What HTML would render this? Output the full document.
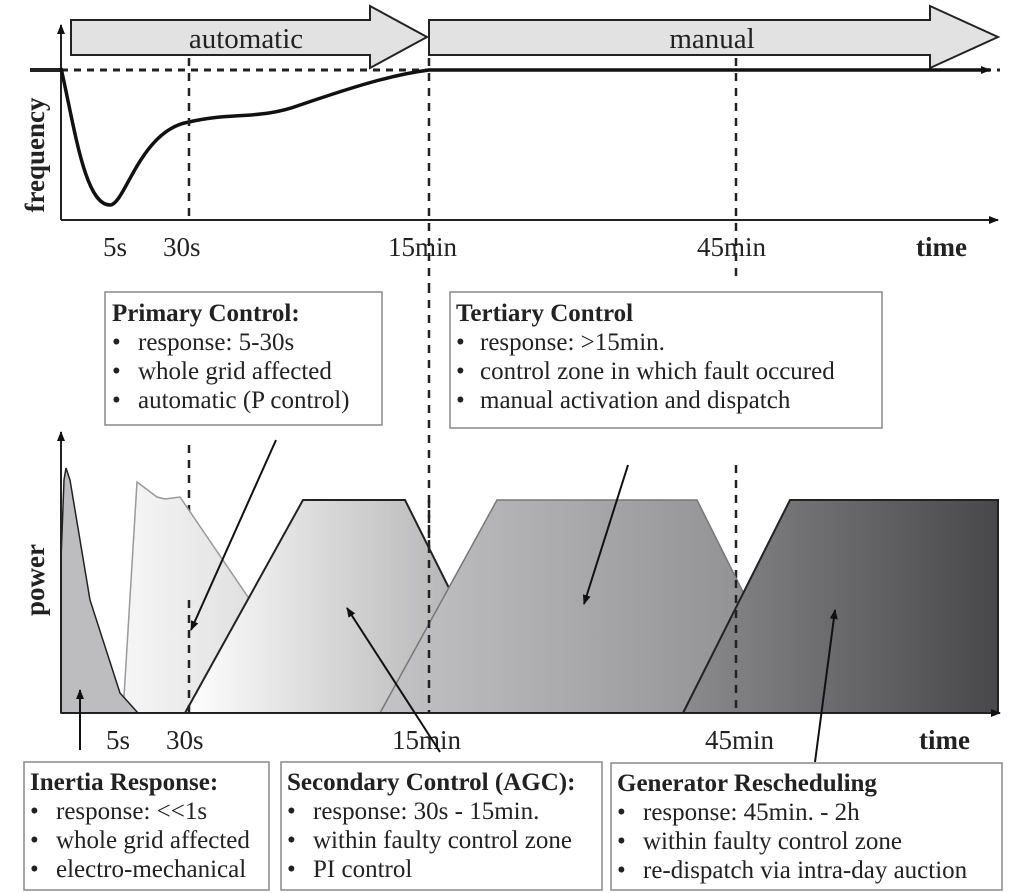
<!DOCTYPE html>
<html><head><style>body{margin:0;background:#fff}svg{display:block}text{font-family:"Liberation Serif",serif;fill:#222}</style></head><body>
<svg width="1024" height="893" viewBox="0 0 1024 893" xmlns="http://www.w3.org/2000/svg">
<defs>
<linearGradient id="g1" x1="0" x2="1"><stop offset="0" stop-color="#f6f6f6"/><stop offset="1" stop-color="#d8d8d8"/></linearGradient>
<linearGradient id="g2" x1="0" x2="1"><stop offset="0" stop-color="#fff"/><stop offset="1" stop-color="#a9a9ab"/></linearGradient>
<linearGradient id="g3" x1="0" x2="1"><stop offset="0" stop-color="#c4c4c6"/><stop offset="1" stop-color="#8a8a8d"/></linearGradient>
<linearGradient id="g4" x1="0" x2="1"><stop offset="0" stop-color="#8b8b8e"/><stop offset="1" stop-color="#48484b"/></linearGradient>
<marker id="ah" markerWidth="10" markerHeight="10" refX="9" refY="5" orient="auto" markerUnits="userSpaceOnUse"><path d="M0,1 L10,5 L0,9 Z" fill="#111"/></marker>
</defs>
<path d="M71,20 H370 V6 L427,37 L370,68 V55 H71 Z" fill="#e2e2e2" stroke="#222" stroke-width="2"/>
<path d="M429,20 H930 V6 L998,37 L930,68 V55 H429 Z" fill="#e2e2e2" stroke="#222" stroke-width="2"/>
<text x="246" y="48" font-size="29" text-anchor="middle">automatic</text>
<text x="712" y="48" font-size="29" text-anchor="middle">manual</text>
<line x1="61" y1="220" x2="61" y2="25" stroke="#222" stroke-width="2" marker-end="url(#ah)"/>
<line x1="61" y1="220" x2="998" y2="220" stroke="#222" stroke-width="2" marker-end="url(#ah)"/>
<line x1="61" y1="70" x2="1000" y2="70" stroke="#222" stroke-width="3" stroke-dasharray="7,6"/>
<line x1="30" y1="70" x2="61" y2="70" stroke="#222" stroke-width="4"/>
<path d="M61,68 C75,130 85,205 110,205 C125,205 140,130 189,122 C230,112 260,120 300,105 C350,88 390,75 429,70 L990,70" fill="none" stroke="#111" stroke-width="3.5" marker-end="url(#ah)"/>
<g stroke="#222" stroke-width="2.5" stroke-dasharray="8,7">
<line x1="189" y1="58" x2="189" y2="220"/>
<line x1="429" y1="58" x2="429" y2="285"/>
<line x1="736" y1="58" x2="736" y2="280"/>
<line x1="189" y1="445" x2="189" y2="713"/>
<line x1="429" y1="285" x2="429" y2="713"/>
<line x1="736" y1="465" x2="736" y2="713"/>
</g>
<text x="44" y="155" font-size="27" font-weight="bold" transform="rotate(-90 44 155)" text-anchor="middle">frequency</text>
<g font-size="27"><text x="103" y="256">5s</text><text x="163" y="256">30s</text><text x="388" y="256">15min</text><text x="697" y="256">45min</text><text x="916" y="256" font-weight="bold">time</text></g>
<path d="M123,713 L137,482 L157,497 L165,499 L180,497 L250,600 L300,713 Z" fill="url(#g1)" stroke="#999" stroke-width="1.5"/>
<path d="M61,713 L61,560 L64,480 L66,468 L70,480 L90,600 L120,693 L138,713 Z" fill="#bdbdbf" stroke="#222" stroke-width="1.5"/>
<path d="M185,713 L303,500 L405,500 L455,600 L500,713 Z" fill="url(#g2)" stroke="#222" stroke-width="2"/>
<path d="M380,713 L497,500 L697,500 L750,606 L800,713 Z" fill="url(#g3)" stroke="#777" stroke-width="1.5"/>
<path d="M683,713 L790,500 L998,500 L998,713 Z" fill="url(#g4)" stroke="#222" stroke-width="2"/>
<g stroke="#222" stroke-width="2.5" stroke-dasharray="8,7">
<line x1="189" y1="600" x2="189" y2="713"/>
<line x1="429" y1="500" x2="429" y2="713"/>
<line x1="736" y1="580" x2="736" y2="713"/>
</g>
<line x1="61" y1="713" x2="61" y2="432" stroke="#222" stroke-width="2" marker-end="url(#ah)"/>
<line x1="61" y1="713" x2="1000" y2="713" stroke="#222" stroke-width="2" marker-end="url(#ah)"/>
<text x="44" y="580" font-size="27" font-weight="bold" transform="rotate(-90 44 580)" text-anchor="middle">power</text>
<g font-size="27"><text x="106" y="749">5s</text><text x="166" y="749">30s</text><text x="392" y="749">15min</text><text x="705" y="749">45min</text><text x="919" y="749" font-weight="bold">time</text></g>
<g stroke="#111" stroke-width="2" marker-end="url(#ah)">
<line x1="276" y1="440" x2="191" y2="630"/>
<line x1="628" y1="465" x2="584" y2="604"/>
<line x1="440" y1="752" x2="347" y2="608"/>
<line x1="815" y1="762" x2="835" y2="610"/>
<line x1="80" y1="750" x2="80" y2="690"/>
</g>
<g fill="#fff" stroke="#888" stroke-width="1.5">
<rect x="105" y="292" width="277" height="133"/>
<rect x="450" y="292" width="432" height="136"/>
<rect x="24" y="762" width="245" height="128"/>
<rect x="281" y="762" width="321" height="128"/>
<rect x="611" y="763" width="391" height="127"/>
</g>
<g font-size="25">
<text x="112" y="321" font-weight="bold">Primary Control:</text>
<text x="112" y="350">•</text><text x="138" y="350">response: 5-30s</text>
<text x="112" y="379">•</text><text x="138" y="379">whole grid affected</text>
<text x="112" y="408">•</text><text x="138" y="408">automatic (P control)</text>
<text x="456" y="321" font-weight="bold">Tertiary Control</text>
<text x="456" y="350">•</text><text x="480" y="350">response: &gt;15min.</text>
<text x="456" y="379">•</text><text x="480" y="379">control zone in which fault occured</text>
<text x="456" y="408">•</text><text x="480" y="408">manual activation and dispatch</text>
<text x="30" y="790" font-weight="bold">Inertia Response:</text>
<text x="30" y="819">•</text><text x="56" y="819">response: &lt;&lt;1s</text>
<text x="30" y="848">•</text><text x="56" y="848">whole grid affected</text>
<text x="30" y="877">•</text><text x="56" y="877">electro-mechanical</text>
<text x="287" y="790" font-weight="bold">Secondary Control (AGC):</text>
<text x="287" y="819">•</text><text x="313" y="819">response: 30s - 15min.</text>
<text x="287" y="848">•</text><text x="313" y="848">within faulty control zone</text>
<text x="287" y="877">•</text><text x="313" y="877">PI control</text>
<text x="617" y="791" font-weight="bold">Generator Rescheduling</text>
<text x="617" y="820">•</text><text x="643" y="820">response: 45min. - 2h</text>
<text x="617" y="849">•</text><text x="643" y="849">within faulty control zone</text>
<text x="617" y="878">•</text><text x="643" y="878">re-dispatch via intra-day auction</text>
</g>
</svg>
</body></html>
